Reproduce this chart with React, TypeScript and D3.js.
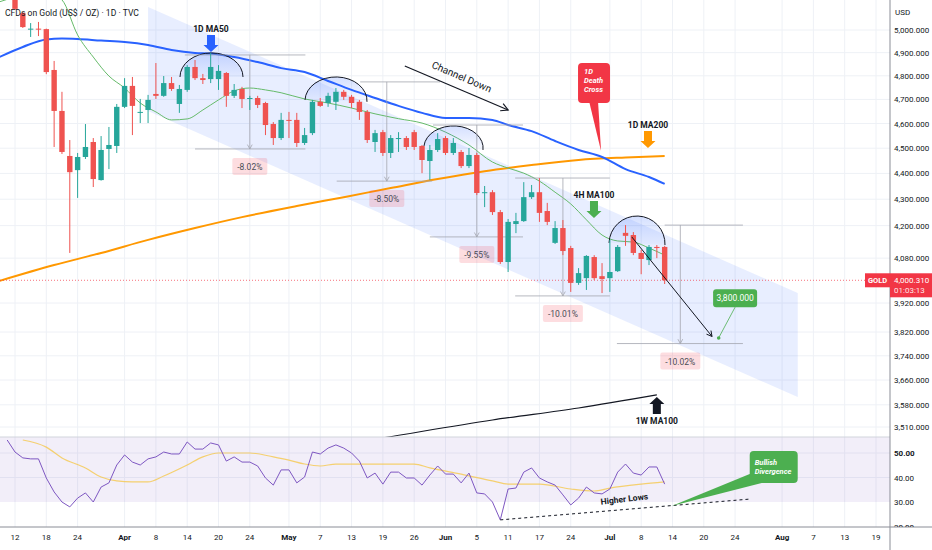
import React from 'react';
import * as d3 from 'd3';

// bar slots: index 0 = Mar 12, one slot per trading day
const dateLabels = ['12', '18', '24', 'Apr', '8', '14', '20', '24', 'May', '7', '13', '19', '26', 'Jun', '5', '11', '17', '24', 'Jul', '8', '14', '20', '24', 'Aug', '7', '13', '19'];
const dateIndex = [0, 4, 8, 14, 18, 22, 26, 30, 35, 39, 43, 47, 51, 55, 59, 63, 67, 71, 76, 80, 84, 88, 92, 98, 102, 106, 110];
const monthLabels = ['Apr', 'May', 'Jun', 'Jul', 'Aug'];

// daily candles, US$ / oz
const opens = [5136, 5076, 5004, 5006, 5004, 4825, 4652, 4469, 4413, 4465, 4525, 4374, 4497, 4509, 4669, 4757, 4646, 4656, 4723, 4715, 4769, 4681, 4740, 4838, 4790, 4786, 4786, 4812, 4715, 4744, 4704, 4706, 4685, 4598, 4541, 4615, 4615, 4521, 4561, 4690, 4685, 4690, 4732, 4711, 4690, 4648, 4525, 4565, 4481, 4537, 4541, 4565, 4509, 4449, 4493, 4541, 4481, 4485, 4429, 4473, 4325, 4327, 4251, 4066, 4206, 4217, 4308, 4327, 4255, 4136, 4191, 4117, 3991, 4008, 4084, 4015, 4008, 4033, 4173, 4165, 4099, 4073, 4121, 4121];
const highs = [5150, 5081, 5031, 5036, 5006, 4864, 4732, 4533, 4481, 4598, 4541, 4549, 4586, 4681, 4790, 4795, 4702, 4719, 4855, 4799, 4795, 4761, 4846, 4868, 4808, 4899, 4846, 4816, 4765, 4753, 4715, 4715, 4690, 4606, 4644, 4648, 4644, 4582, 4698, 4706, 4728, 4748, 4740, 4719, 4698, 4656, 4574, 4574, 4553, 4565, 4549, 4574, 4513, 4513, 4561, 4549, 4541, 4493, 4501, 4481, 4351, 4335, 4259, 4225, 4248, 4366, 4355, 4382, 4286, 4217, 4221, 4125, 4044, 4091, 4091, 4062, 4147, 4128, 4202, 4176, 4110, 4128, 4128, 4125];
const lows = [5090, 5009, 4969, 4973, 4807, 4505, 4477, 4099, 4305, 4457, 4347, 4372, 4417, 4481, 4664, 4553, 4602, 4602, 4702, 4711, 4736, 4644, 4732, 4782, 4765, 4769, 4740, 4669, 4706, 4664, 4656, 4664, 4553, 4513, 4533, 4541, 4505, 4513, 4553, 4669, 4669, 4656, 4698, 4664, 4615, 4521, 4485, 4469, 4461, 4485, 4493, 4493, 4401, 4374, 4485, 4473, 4473, 4421, 4421, 4316, 4270, 4240, 4059, 4030, 4172, 4214, 4301, 4214, 4202, 4132, 4091, 3959, 3984, 3966, 4001, 3955, 3959, 4030, 4125, 4091, 4022, 4055, 4080, 3987];
const closes = [5095, 5013, 5006, 5002, 4816, 4652, 4485, 4405, 4465, 4505, 4378, 4493, 4513, 4669, 4757, 4673, 4648, 4698, 4715, 4769, 4744, 4744, 4838, 4790, 4782, 4838, 4821, 4715, 4740, 4702, 4706, 4677, 4594, 4541, 4615, 4611, 4521, 4553, 4690, 4673, 4715, 4732, 4711, 4685, 4648, 4533, 4561, 4481, 4541, 4541, 4505, 4505, 4453, 4493, 4537, 4481, 4521, 4429, 4473, 4324, 4327, 4251, 4066, 4214, 4217, 4308, 4327, 4248, 4214, 4191, 4106, 3991, 4026, 4088, 4008, 4005, 4030, 4121, 4162, 4099, 4077, 4121, 4117, 4000.31];
const lastPrice = 4000.31;

const priceTicks = [5000, 4900, 4800, 4700, 4600, 4500, 4400, 4300, 4200, 4080, 3920, 3820, 3740, 3660, 3580, 3510];
const rsiTicks = [50, 40, 30, 20];

// moving averages: bar index -> price
const ma50Index = [-2, 1, 4, 6, 8, 11, 14, 17, 20, 23, 25, 28, 31, 34, 37, 40, 43, 46, 49, 52, 55, 58, 61, 63, 66, 69, 72, 75, 78, 81, 83];
const ma50Value = [4881, 4925, 4958, 4962, 4960, 4953, 4947, 4934, 4912, 4899, 4896, 4881, 4859, 4833, 4816, 4778, 4740, 4706, 4673, 4644, 4623, 4623, 4615, 4594, 4569, 4529, 4493, 4465, 4417, 4386, 4359];
const ma200Index = [-2, 5, 11, 17, 23, 29, 36, 42, 48, 54, 60, 66, 72, 78, 83];
const ma200Value = [3998, 4055, 4099, 4147, 4191, 4232, 4274, 4308, 4343, 4378, 4409, 4433, 4453, 4463, 4469];
const ma100h4Index = [-2, 0, 3, 6, 8, 10, 12, 14, 16, 18, 20, 22, 24, 26, 28, 30, 32, 34, 37, 40, 43, 46, 49, 52, 55, 58, 61, 63, 65, 67, 69, 71, 73, 75, 77, 79, 81, 83];
const ma100h4Value = [5127, 5150, 5190, 5136, 4978, 4881, 4799, 4748, 4685, 4648, 4615, 4619, 4656, 4698, 4736, 4748, 4740, 4728, 4702, 4685, 4664, 4640, 4620, 4602, 4565, 4513, 4445, 4421, 4401, 4370, 4327, 4282, 4222, 4165, 4143, 4139, 4117, 4091];
const ma100wIndex = [36, 47, 61, 72, 82];
const ma100wValue = [3433, 3476, 3532, 3570, 3612];

// RSI(14) from bar -1 on, and its moving average
const rsiStart = -1;
const rsiValues = [55.3, 50.4, 48.0, 47.6, 47.6, 39.8, 34.1, 30.0, 28.0, 31.6, 33.7, 30.0, 36.1, 37.8, 45.1, 49.2, 46.3, 45.1, 47.6, 48.4, 50.4, 49.6, 49.6, 54.5, 51.6, 51.6, 54.1, 53.3, 46.7, 48.4, 46.3, 46.3, 44.7, 39.8, 36.9, 43.1, 43.1, 37.8, 40.2, 50.4, 49.6, 52.0, 53.3, 52.0, 50.0, 46.7, 39.8, 41.8, 37.3, 42.2, 42.2, 39.8, 39.8, 36.9, 41.0, 44.7, 41.4, 41.4, 37.8, 41.8, 33.7, 33.3, 30.0, 22.7, 35.3, 35.7, 42.2, 43.9, 39.8, 38.2, 36.9, 32.9, 28.8, 31.6, 36.1, 33.7, 33.3, 35.3, 42.2, 45.5, 41.8, 41.0, 44.3, 44.3, 37.3];
const rsiMaIndex = [1, 4, 6, 9, 11, 13, 15, 17, 19, 22, 24, 26, 30, 33, 35, 37, 39, 41, 45, 51, 53, 57, 61, 63, 67, 71, 74, 76, 80, 83];
const rsiMaValue = [55.3, 52.4, 48.0, 43.9, 40.2, 38.6, 38.2, 38.2, 40.6, 45.1, 48.4, 50.0, 50.0, 48.4, 47.1, 45.5, 44.7, 45.5, 45.5, 45.5, 43.9, 41.4, 38.6, 37.3, 37.3, 35.3, 34.5, 35.7, 37.3, 38.2];

// drawings (bar index / price)
const channelIndex = [17, 100];
const channelUpper = [5104, 3955];
const channelLower = [4652, 3605];

const arcStart = [21.08, 37.05, 52.25, 75.89];
const arcEnd = [29.13, 44.97, 59.79, 83.04];
const arcStartPrice = [4795, 4698, 4509, 4136];
const arcEndPrice = [4795, 4690, 4493, 4128];
const arcTopPrice = [4899, 4795, 4590, 4236];

const measureLabels = ['-8.02%', '-8.50%', '-9.55%', '-10.01%', '-10.02%'];
const measureTop = [4890, 4774, 4594, 4382, 4202];
const measureBottom = [4497, 4370, 4158, 3945, 3781];
const measureAt = [30.0, 47.5, 59.0, 70.0, 85.0];
const measureTopFrom = [21.7, 44.1, 53.4, 63.9, 83.0];
const measureTopTo = [37.1, 54.3, 64.9, 76.0, 93.0];
const measureBottomFrom = [23.0, 41.1, 53.0, 63.9, 76.9];
const measureBottomTo = [37.1, 53.3, 64.9, 76.0, 93.0];

const projectionFrom = [78.8, 4158];
const projectionTo = [89.05, 3805];
const target = [89.9, 3800];
const targetBox = [92.0, 3937];

const channelArrowFrom = [49.8, 4842];
const channelArrowTo = [63.0, 4656];
const channelText = [56.9, 4782];

const ma50Tip = [25.04, 4903];
const ma200Tip = [80.87, 4501];
const h4Tip = [73.97, 4229];
const weeklyTip = [82.0, 3605];
const deathCrossTip = [74.87, 4489];

const higherLowsIndex = [62, 93.9];
const higherLowsRsi = [22.7, 31.2];
const higherLowsText = [77.9, 30.0];
const divergenceTip = [83.9, 28.4];

const font = "Roboto, 'Liberation Sans', Arial, sans-serif";
const up = '#26a69a';
const down = '#ef5350';
const grid = '#eef1f6';

const App: React.FC = () => {
  const W = 932;
  const H = 550;
  const plotRight = 890;
  const mainBottom = 437;
  const rsiBottom = 527;

  const x = d3.scaleLinear().domain([0, 110]).range([15, 876]);
  const y = d3.scaleLog().domain([3510, 5000]).range([427, 30]);
  const yr = d3.scaleLinear().domain([30, 50]).range([502, 453]);
  const bodyW = 5.4;

  const priceLine = d3.line<[number, number]>()
    .x(d => x(d[0]))
    .y(d => y(d[1]))
    .curve(d3.curveMonotoneX);
  const rsiLine = d3.line<[number, number]>()
    .x(d => x(d[0]))
    .y(d => yr(d[1]))
    .curve(d3.curveLinear);
  const rsiSmooth = d3.line<[number, number]>()
    .x(d => x(d[0]))
    .y(d => yr(d[1]))
    .curve(d3.curveMonotoneX);

  const zip = (a: number[], b: number[]) => a.map((v, i) => [v, b[i]] as [number, number]);

  const channelPath = `M${x(channelIndex[0])},${y(channelUpper[0])}L${x(channelIndex[1])},${y(channelUpper[1])}L${x(channelIndex[1])},${y(channelLower[1])}L${x(channelIndex[0])},${y(channelLower[0])}Z`;

  const downArrow = (cx: number, tip: number) =>
    `M${cx - 4},${tip - 17}h8v10h3.5L${cx},${tip}L${cx - 7.5},${tip - 7}h3.5Z`;
  const upArrow = (cx: number, tip: number) =>
    `M${cx - 4},${tip + 17}h8v-10h3.5L${cx},${tip}L${cx - 7.5},${tip + 7}h3.5Z`;

  const openHead = (x1: number, y1: number, x2: number, y2: number, size = 7) => {
    const a = Math.atan2(y2 - y1, x2 - x1);
    const p1 = [x2 - size * Math.cos(a - 0.5), y2 - size * Math.sin(a - 0.5)];
    const p2 = [x2 - size * Math.cos(a + 0.5), y2 - size * Math.sin(a + 0.5)];
    return `M${p1[0]},${p1[1]}L${x2},${y2}L${p2[0]},${p2[1]}`;
  };

  const lastY = y(lastPrice);

  const maLabel = (tip: number[], text: string, color: string) => {
    const cx = x(tip[0]);
    const ty = y(tip[1]);
    return (
      <g key={text}>
        <text x={cx} y={ty - 20} textAnchor="middle" fontSize={8.5} fontWeight={700} fill="#131722">{text}</text>
        <path d={downArrow(cx, ty)} fill={color} />
      </g>
    );
  };

  const pa = [x(projectionFrom[0]), y(projectionFrom[1]), x(projectionTo[0]), y(projectionTo[1])];
  const ca = [x(channelArrowFrom[0]), y(channelArrowFrom[1]), x(channelArrowTo[0]), y(channelArrowTo[1])];
  const channelAngle = (Math.atan2(ca[3] - ca[1], ca[2] - ca[0]) * 180) / Math.PI;

  const dcx = x(deathCrossTip[0]);
  const dcy = y(deathCrossTip[1]);
  const bdx = x(divergenceTip[0]);
  const bdy = yr(divergenceTip[1]);
  const hl = [x(higherLowsIndex[0]), yr(higherLowsRsi[0]), x(higherLowsIndex[1]), yr(higherLowsRsi[1])];
  const hlAngle = (Math.atan2(hl[3] - hl[1], hl[2] - hl[0]) * 180) / Math.PI;

  return (
    <svg width={W} height={H} style={{ position: 'absolute', left: 0, top: 0, background: '#fff' }} fontFamily={font}>
      <defs>
        <clipPath id="mainClip"><rect x={0} y={0} width={plotRight} height={mainBottom} /></clipPath>
        <clipPath id="rsiClip"><rect x={0} y={mainBottom} width={plotRight} height={rsiBottom - mainBottom} /></clipPath>
        <clipPath id="rsiAxisClip"><rect x={plotRight} y={mainBottom} width={W - plotRight} height={rsiBottom - mainBottom} /></clipPath>
        <linearGradient id="arcFill" x1="0" y1="0" x2="0" y2="1">
          <stop offset="0%" stopColor="#2962ff" stopOpacity={0.2} />
          <stop offset="100%" stopColor="#2962ff" stopOpacity={0.03} />
        </linearGradient>
      </defs>

      {/* grid */}
      {dateIndex.map(i => (
        <line key={'vg' + i} x1={x(i)} x2={x(i)} y1={0} y2={rsiBottom} stroke={grid} />
      ))}
      {priceTicks.map(p => (
        <line key={'hg' + p} x1={0} x2={plotRight} y1={y(p)} y2={y(p)} stroke={grid} />
      ))}
      {[50, 40].map(v => (
        <line key={'rg' + v} x1={0} x2={plotRight} y1={yr(v)} y2={yr(v)} stroke={grid} />
      ))}

      <g clipPath="url(#mainClip)">
        {/* channel */}
        <path d={channelPath} fill="#2962ff" fillOpacity={0.11} />

        {/* moving averages */}
        <path d={priceLine(zip(ma200Index, ma200Value)) || ''} fill="none" stroke="#ff9800" strokeWidth={2} />
        <path d={priceLine(zip(ma50Index, ma50Value)) || ''} fill="none" stroke="#2962ff" strokeWidth={2} />
        <path d={priceLine(zip(ma100h4Index, ma100h4Value)) || ''} fill="none" stroke="#66bb6a" strokeWidth={1} />
        <path d={priceLine(zip(ma100wIndex, ma100wValue)) || ''} fill="none" stroke="#131722" strokeWidth={1.2} />

        {/* last price line */}
        <line x1={0} x2={plotRight} y1={lastY} y2={lastY} stroke="#f23645" strokeDasharray="1 2" strokeOpacity={0.7} />

        {/* arcs */}
        {arcStart.map((s, i) => {
          const x1 = x(s), y1 = y(arcStartPrice[i]);
          const x2 = x(arcEnd[i]), y2 = y(arcEndPrice[i]);
          const rx = (x2 - x1) / 2;
          const ry = (y1 + y2) / 2 - y(arcTopPrice[i]);
          const d = `M${x1},${y1}A${rx},${ry} 0 0 1 ${x2},${y2}`;
          return (
            <g key={'arc' + i}>
              <path d={d + 'Z'} fill="url(#arcFill)" />
              <path d={d} fill="none" stroke="#131722" strokeWidth={1} />
            </g>
          );
        })}

        {/* measurements */}
        {measureLabels.map((label, i) => {
          const vx = x(measureAt[i]);
          const ty = y(measureTop[i]);
          const by = y(measureBottom[i]);
          const w = label.length * 5 + 5;
          return (
            <g key={'m' + i}>
              <line x1={x(measureTopFrom[i])} x2={x(measureTopTo[i])} y1={ty} y2={ty} stroke="#a3a6af" strokeWidth={0.8} />
              <line x1={x(measureBottomFrom[i])} x2={x(measureBottomTo[i])} y1={by} y2={by} stroke="#a3a6af" strokeWidth={0.8} />
              <line x1={vx} x2={vx} y1={ty} y2={by} stroke="#a3a6af" strokeWidth={0.8} />
              <path d={openHead(vx, ty, vx, by, 5)} fill="none" stroke="#a3a6af" strokeWidth={0.8} />
              <rect x={vx - w / 2} y={by + 9} width={w} height={17} rx={2} fill="#f23645" fillOpacity={0.17} />
              <text x={vx} y={by + 21} textAnchor="middle" fontSize={8.5} fill="#4a4d57">{label}</text>
            </g>
          );
        })}

        {/* candles */}
        {opens.map((o, i) => {
          const c = closes[i];
          const col = c >= o ? up : down;
          const cx = x(i);
          const top = y(Math.max(o, c));
          const bot = y(Math.min(o, c));
          return (
            <g key={'c' + i}>
              <line x1={cx} x2={cx} y1={y(highs[i])} y2={y(lows[i])} stroke={col} strokeWidth={1} />
              <rect x={cx - bodyW / 2} y={top} width={bodyW} height={Math.max(1, bot - top)} fill={col} />
            </g>
          );
        })}

        {/* projection arrow and target */}
        <line x1={pa[0]} y1={pa[1]} x2={pa[2]} y2={pa[3]} stroke="#131722" strokeWidth={1} />
        <path d={openHead(pa[0], pa[1], pa[2], pa[3], 6)} fill="none" stroke="#131722" strokeWidth={1} />
        <line x1={x(target[0])} y1={y(target[1])} x2={x(targetBox[0])} y2={y(targetBox[1]) + 9} stroke="#4caf50" strokeWidth={0.8} />
        <circle cx={x(target[0])} cy={y(target[1])} r={1.8} fill="#4caf50" />
        <rect x={x(targetBox[0]) - 22} y={y(targetBox[1]) - 9} width={44} height={18} rx={3} fill="#4caf50" />
        <text x={x(targetBox[0])} y={y(targetBox[1]) + 3} textAnchor="middle" fontSize={8.5} fill="#fff">3,800.000</text>

        {/* channel down */}
        <line x1={ca[0]} y1={ca[1]} x2={ca[2]} y2={ca[3]} stroke="#131722" strokeWidth={1.2} />
        <path d={openHead(ca[0], ca[1], ca[2], ca[3], 8)} fill="none" stroke="#131722" strokeWidth={1.2} />
        <text
          x={x(channelText[0])}
          y={y(channelText[1])}
          textAnchor="middle"
          fontSize={10}
          fill="#131722"
          transform={`rotate(${channelAngle} ${x(channelText[0])} ${y(channelText[1])})`}
        >
          Channel Down
        </text>

        {/* MA callouts */}
        {maLabel(ma50Tip, '1D MA50', '#2962ff')}
        {maLabel(ma200Tip, '1D MA200', '#ff9800')}
        {maLabel(h4Tip, '4H MA100', '#4caf50')}
        <path d={upArrow(x(weeklyTip[0]), y(weeklyTip[1]))} fill="#131722" />
        <text x={x(weeklyTip[0])} y={y(weeklyTip[1]) + 27} textAnchor="middle" fontSize={8.5} fontWeight={700} fill="#131722">1W MA100</text>

        {/* death cross */}
        <path d={`M${dcx - 12},${dcy - 50}L${dcx},${dcy}L${dcx - 3},${dcy - 50}Z`} fill="#f23645" />
        <rect x={dcx - 23} y={dcy - 88} width={32} height={40} rx={4} fill="#f23645" />
        <g fontSize={7.5} fontWeight={700} fontStyle="italic" fill="#fff">
          <text x={dcx - 17} y={dcy - 77}>1D</text>
          <text x={dcx - 17} y={dcy - 68}>Death</text>
          <text x={dcx - 17} y={dcy - 59}>Cross</text>
        </g>
      </g>

      {/* title */}
      <text x={5} y={16} fontSize={8.6} fill="#131722">CFDs on Gold (US$ / OZ) · 1D · TVC</text>

      {/* RSI pane */}
      <g clipPath="url(#rsiClip)">
        <rect x={0} y={yr(70)} width={plotRight} height={yr(30) - yr(70)} fill="#7e57c2" fillOpacity={0.1} />
        <path d={rsiSmooth(zip(rsiMaIndex, rsiMaValue)) || ''} fill="none" stroke="#f5c542" strokeOpacity={0.75} strokeWidth={1.2} />
        <path d={rsiLine(rsiValues.map((v, i) => [i + rsiStart, v] as [number, number])) || ''} fill="none" stroke="#7e57c2" strokeWidth={1} />

        <line x1={hl[0]} y1={hl[1]} x2={hl[2]} y2={hl[3]} stroke="#131722" strokeWidth={1} strokeDasharray="3 3" />
        <text
          x={x(higherLowsText[0])}
          y={yr(higherLowsText[1])}
          textAnchor="middle"
          fontSize={8.5}
          fontWeight={700}
          fill="#131722"
          transform={`rotate(${hlAngle - 2} ${x(higherLowsText[0])} ${yr(higherLowsText[1])})`}
        >
          Higher Lows
        </text>

        <path d={`M${bdx},${bdy}L${bdx + 78},${bdy - 32}L${bdx + 90},${bdy - 23}Z`} fill="#4caf50" />
        <rect x={bdx + 78} y={bdy - 55} width={48} height={32} rx={4} fill="#4caf50" />
        <g fontSize={7.5} fontWeight={700} fontStyle="italic" fill="#fff">
          <text x={bdx + 83} y={bdy - 41}>Bullish</text>
          <text x={bdx + 83} y={bdy - 32}>Divergence</text>
        </g>
      </g>

      {/* separators */}
      <line x1={0} x2={plotRight} y1={mainBottom} y2={mainBottom} stroke="#d1d4dc" />
      <line x1={0} x2={W} y1={rsiBottom} y2={rsiBottom} stroke="#8a8d96" />
      <line x1={plotRight} x2={plotRight} y1={0} y2={H} stroke="#8a8d96" />

      {/* price axis */}
      <text x={895} y={15} fontSize={8} fill="#131722">USD</text>
      {priceTicks.map(p => (
        <text key={'pt' + p} x={894} y={y(p) + 3} fontSize={8} fill="#131722">
          {d3.format(',.3f')(p)}
        </text>
      ))}
      <rect x={865} y={lastY - 7} width={25} height={14} fill="#f23645" />
      <text x={877.5} y={lastY + 3} textAnchor="middle" fontSize={7.5} fontWeight={700} fill="#fff">GOLD</text>
      <rect x={890} y={lastY - 7} width={42} height={24} fill="#f23645" />
      <text x={894} y={lastY + 3} fontSize={8} fill="#fff">{d3.format(',.3f')(lastPrice)}</text>
      <text x={894} y={lastY + 13} fontSize={8} fill="#fff" fillOpacity={0.9}>01:03:13</text>

      {/* RSI axis */}
      <g clipPath="url(#rsiAxisClip)">
        {rsiTicks.map(v => (
          <text key={'rt' + v} x={894} y={yr(v) + 3} fontSize={8} fontWeight={v === 50 ? 700 : 400} fill="#131722">
            {d3.format('.2f')(v)}
          </text>
        ))}
      </g>

      {/* time axis */}
      {dateLabels.map((l, i) => (
        <text
          key={'dl' + i}
          x={x(dateIndex[i])}
          y={540}
          textAnchor="middle"
          fontSize={8}
          fontWeight={monthLabels.includes(l) ? 700 : 400}
          fill="#131722"
        >
          {l}
        </text>
      ))}
    </svg>
  );
};

export default App;
